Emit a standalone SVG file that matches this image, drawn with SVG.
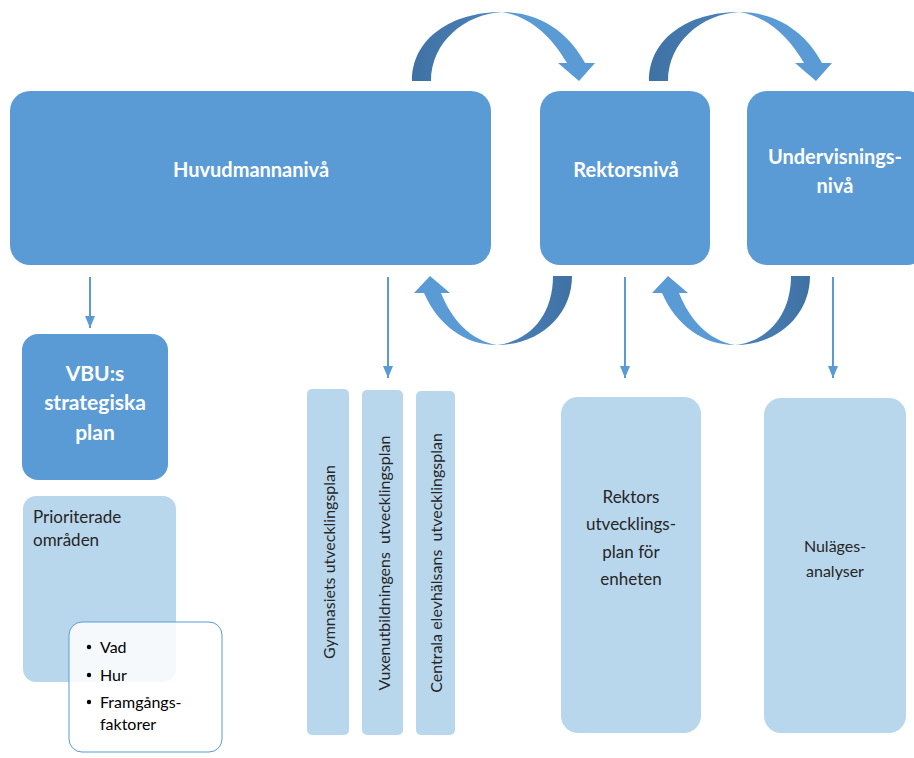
<svg xmlns="http://www.w3.org/2000/svg" width="914" height="758" viewBox="0 0 914 758">
<defs>
<style>
.main{fill:#5B9BD5}
.light{fill:#B9D7EC}
.tb{font-family:Lato,"Liberation Sans",sans-serif;font-weight:bold;fill:#fff;text-anchor:middle}
.tn{font-family:Lato,"Liberation Sans",sans-serif;fill:#262626;text-anchor:middle}
.conn{stroke:#5B9BD5;stroke-width:2;fill:none}
.front{fill:#5B9BD5}
</style>
<marker id="ah" viewBox="0 0 12 10" refX="12" refY="5" markerWidth="12" markerHeight="10" markerUnits="userSpaceOnUse" orient="auto">
<path d="M0,0 L12,5 L0,10 Z" fill="#5B9BD5"/>
</marker>
<linearGradient id="gTop" x1="0" y1="0" x2="1" y2="0">
<stop offset="0" stop-color="#3F71A3"/>
<stop offset="1" stop-color="#4C84BC"/>
</linearGradient>
<linearGradient id="gBot" x1="0" y1="0" x2="1" y2="0">
<stop offset="0" stop-color="#4C84BC"/>
<stop offset="1" stop-color="#3F71A3"/>
</linearGradient>
<g id="curveDown">
<path fill="url(#gTop)" d="M412,81 C412,38 452,12 502,12 C465,14 431,42 431,81 Z"/>
<path class="front" d="M502,12 C545,12 572,38 585,63 L595,63 L579,81 L558,63 L567,63 C552,37 530,16 502,12 Z"/>
</g>
<g id="curveUp">
<path fill="url(#gBot)" d="M497,345 C540,345 572,315 572,276 L553,276 C553,315 530,341 497,345 Z"/>
<path class="front" d="M424,293 C438,325 465,345 497,345 C470,340 452,320 441,293 L450,293 L430,276 L414,293 Z"/>
</g>
</defs>
<rect width="914" height="758" fill="#fff"/>

<g id="curved-arrows">
<use href="#curveDown"/>
<use href="#curveDown" transform="translate(237,0)"/>
<use href="#curveUp"/>
<use href="#curveUp" transform="translate(238,0)"/>
</g>

<g id="connectors">
<line class="conn" x1="90" y1="277" x2="90" y2="328" marker-end="url(#ah)"/>
<line class="conn" x1="388" y1="277" x2="388" y2="378" marker-end="url(#ah)"/>
<line class="conn" x1="625" y1="277" x2="625" y2="378" marker-end="url(#ah)"/>
<line class="conn" x1="833" y1="277" x2="833" y2="378" marker-end="url(#ah)"/>
</g>

<g id="huvudmannaniva">
<rect class="main" x="10" y="91" width="481" height="174" rx="20"/>
<text class="tb" x="251" y="177" font-size="20">Huvudmannanivå</text>
</g>
<g id="rektorsniva">
<rect class="main" x="540" y="91" width="170" height="174" rx="20"/>
<text class="tb" x="626" y="177" font-size="20">Rektorsnivå</text>
</g>
<g id="undervisningsniva">
<rect class="main" x="747" y="91" width="180" height="174" rx="20"/>
<text class="tb" x="835" y="164" font-size="20">Undervisnings-</text>
<text class="tb" x="835" y="193" font-size="20">nivå</text>
</g>

<g id="vbu">
<rect class="main" x="22" y="334" width="146" height="146" rx="16"/>
<text class="tb" x="95" y="381" font-size="21">VBU:s</text>
<text class="tb" x="95" y="410" font-size="21">strategiska</text>
<text class="tb" x="95" y="440" font-size="21">plan</text>
</g>

<g id="prioriterade">
<rect class="light" x="23" y="496" width="153" height="186" rx="13"/>
<text class="tn" x="33" y="523" font-size="17" style="text-anchor:start">Prioriterade</text>
<text class="tn" x="33" y="546" font-size="17" style="text-anchor:start">områden</text>
</g>

<g id="bullets">
<rect x="69" y="622" width="153" height="130" rx="13" fill="#fff" fill-opacity="0.85" stroke="#5B9BD5" stroke-width="1"/>
<circle cx="89" cy="647" r="2.2" fill="#000"/>
<circle cx="89" cy="675" r="2.2" fill="#000"/>
<circle cx="89" cy="702" r="2.2" fill="#000"/>
<text class="tn" x="100" y="653" font-size="16" style="text-anchor:start;fill:#000">Vad</text>
<text class="tn" x="100" y="681" font-size="16" style="text-anchor:start;fill:#000">Hur</text>
<text class="tn" x="100" y="708" font-size="16" style="text-anchor:start;fill:#000">Framgångs-</text>
<text class="tn" x="100" y="730" font-size="16" style="text-anchor:start;fill:#000">faktorer</text>
</g>

<g id="gymnasiets">
<rect class="light" x="307" y="389" width="42" height="346" rx="5"/>
<text class="tn" transform="translate(335,562) rotate(-90)" font-size="16">Gymnasiets utvecklingsplan</text>
</g>
<g id="vuxenutbildningens">
<rect class="light" x="362" y="390" width="41" height="345" rx="5"/>
<text class="tn" transform="translate(390,563) rotate(-90)" font-size="16" xml:space="preserve">Vuxenutbildningens  utvecklingsplan</text>
</g>
<g id="centrala">
<rect class="light" x="416" y="391" width="39" height="344" rx="5"/>
<text class="tn" transform="translate(442,563) rotate(-90)" font-size="16" xml:space="preserve">Centrala elevhälsans  utvecklingsplan</text>
</g>

<g id="rektors-plan">
<rect class="light" x="561" y="397" width="140" height="336" rx="17"/>
<text class="tn" x="631" y="503" font-size="17">Rektors</text>
<text class="tn" x="631" y="530" font-size="17">utvecklings-</text>
<text class="tn" x="631" y="558" font-size="17">plan för</text>
<text class="tn" x="631" y="585" font-size="17">enheten</text>
</g>

<g id="nulages">
<rect class="light" x="764" y="398" width="142" height="335" rx="17"/>
<text class="tn" x="835" y="552" font-size="16">Nuläges-</text>
<text class="tn" x="835" y="577" font-size="16">analyser</text>
</g>
</svg>
